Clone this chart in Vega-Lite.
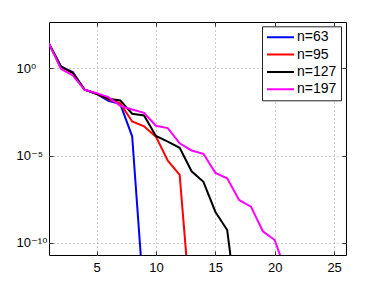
{
  "$schema": "https://vega.github.io/schema/vega-lite/v6.json",
  "width": 297,
  "height": 233,
  "autosize": {"type": "none"},
  "padding": {"left": 49, "top": 22, "right": 36, "bottom": 32},
  "background": "white",
  "config": {
    "view": {"stroke": "black", "strokeWidth": 1},
    "font": "Liberation Sans, DejaVu Sans, sans-serif"
  },
  "data": {
    "values": [
      {"series": "n=63", "x": 1, "y": 25.1},
      {"series": "n=63", "x": 2, "y": 1.2},
      {"series": "n=63", "x": 3, "y": 0.6},
      {"series": "n=63", "x": 4, "y": 0.0575},
      {"series": "n=63", "x": 5, "y": 0.0339},
      {"series": "n=63", "x": 6, "y": 0.0135},
      {"series": "n=63", "x": 7, "y": 0.0088},
      {"series": "n=63", "x": 8, "y": 1.26e-4},
      {"series": "n=63", "x": 9, "y": 5.0e-14},
      {"series": "n=95", "x": 1, "y": 25.1},
      {"series": "n=95", "x": 2, "y": 1.12},
      {"series": "n=95", "x": 3, "y": 0.537},
      {"series": "n=95", "x": 4, "y": 0.0575},
      {"series": "n=95", "x": 5, "y": 0.0339},
      {"series": "n=95", "x": 6, "y": 0.0166},
      {"series": "n=95", "x": 7, "y": 0.0095},
      {"series": "n=95", "x": 8, "y": 8.91e-4},
      {"series": "n=95", "x": 9, "y": 4.68e-4},
      {"series": "n=95", "x": 10, "y": 1.2e-4},
      {"series": "n=95", "x": 11, "y": 5.13e-6},
      {"series": "n=95", "x": 12, "y": 7.76e-7},
      {"series": "n=95", "x": 13, "y": 3.98e-15},
      {"series": "n=127", "x": 1, "y": 25.1},
      {"series": "n=127", "x": 2, "y": 1.26},
      {"series": "n=127", "x": 3, "y": 0.525},
      {"series": "n=127", "x": 4, "y": 0.0575},
      {"series": "n=127", "x": 5, "y": 0.0339},
      {"series": "n=127", "x": 6, "y": 0.0178},
      {"series": "n=127", "x": 7, "y": 0.0141},
      {"series": "n=127", "x": 8, "y": 2.45e-3},
      {"series": "n=127", "x": 9, "y": 1.95e-3},
      {"series": "n=127", "x": 10, "y": 1.32e-4},
      {"series": "n=127", "x": 11, "y": 6.31e-5},
      {"series": "n=127", "x": 12, "y": 2.75e-5},
      {"series": "n=127", "x": 13, "y": 1.26e-6},
      {"series": "n=127", "x": 14, "y": 3.16e-7},
      {"series": "n=127", "x": 15, "y": 6.17e-9},
      {"series": "n=127", "x": 16, "y": 5.5e-10},
      {"series": "n=127", "x": 17, "y": 2.51e-15},
      {"series": "n=197", "x": 1, "y": 25.1},
      {"series": "n=197", "x": 2, "y": 0.912},
      {"series": "n=197", "x": 3, "y": 0.38},
      {"series": "n=197", "x": 4, "y": 0.0575},
      {"series": "n=197", "x": 5, "y": 0.0372},
      {"series": "n=197", "x": 6, "y": 0.0219},
      {"series": "n=197", "x": 7, "y": 0.00692},
      {"series": "n=197", "x": 8, "y": 4.27e-3},
      {"series": "n=197", "x": 9, "y": 2.75e-3},
      {"series": "n=197", "x": 10, "y": 5.01e-4},
      {"series": "n=197", "x": 11, "y": 3.72e-4},
      {"series": "n=197", "x": 12, "y": 5.01e-5},
      {"series": "n=197", "x": 13, "y": 1.95e-5},
      {"series": "n=197", "x": 14, "y": 1.26e-5},
      {"series": "n=197", "x": 15, "y": 1.02e-6},
      {"series": "n=197", "x": 16, "y": 5.01e-7},
      {"series": "n=197", "x": 17, "y": 2.88e-8},
      {"series": "n=197", "x": 18, "y": 1.2e-8},
      {"series": "n=197", "x": 19, "y": 4.68e-10},
      {"series": "n=197", "x": 20, "y": 1.48e-10},
      {"series": "n=197", "x": 21, "y": 1.74e-12}
    ]
  },
  "layer": [
    {
      "mark": {"type": "line", "strokeWidth": 2, "clip": true},
      "encoding": {
        "x": {
          "field": "x", "type": "quantitative",
          "scale": {"domain": [1, 26], "nice": false, "zero": false},
          "axis": {
            "orient": "bottom", "values": [5, 10, 15, 20, 25], "title": null,
            "grid": true, "gridDash": [1, 3], "gridColor": "#999999", "gridOpacity": 1,
            "domain": false, "tickSize": -4, "tickColor": "#333333",
            "labelPadding": 10.5, "labelFontSize": 13, "labelColor": "black", "labelFlush": false
          }
        },
        "y": {
          "field": "y", "type": "quantitative",
          "scale": {"type": "log", "domain": [2.056e-11, 431], "nice": false},
          "axis": {
            "orient": "left", "values": [1e-10, 1e-5, 1], "title": null,
            "grid": true, "gridDash": [1, 3], "gridColor": "#999999", "gridOpacity": 1,
            "domain": false, "tickSize": -4, "tickColor": "#333333",
            "labelAlign": "left", "labelPadding": 37, "labelFontSize": 13, "labelColor": "black",
            "labelExpr": "datum.value > 0.5 ? '10⁰' : (datum.value < 1e-7 ? '10⁻¹⁰' : '10⁻⁵')"
          }
        },
        "color": {
          "field": "series", "type": "nominal",
          "scale": {"domain": ["n=63", "n=95", "n=127", "n=197"], "range": ["#0000ff", "#ff0000", "#000000", "#ff00ff"]},
          "legend": {
            "orient": "none", "legendX": 213, "legendY": 4.3, "title": null,
            "symbolType": "stroke", "symbolSize": 729, "symbolStrokeWidth": 2,
            "labelFontSize": 14, "labelColor": "black", "labelOffset": 2,
            "strokeColor": "#222222", "fillColor": "white", "padding": 4,
            "rowPadding": 3.3, "clipHeight": 14
          }
        }
      }
    },
    {
      "mark": {"type": "line", "opacity": 0},
      "encoding": {
        "x": {
          "field": "x", "type": "quantitative",
          "scale": {"domain": [1, 26], "nice": false, "zero": false},
          "axis": {"orient": "top", "values": [5, 10, 15, 20, 25], "title": null, "grid": false, "domain": false, "labels": false, "tickSize": -4, "tickColor": "#333333"}
        },
        "y": {
          "field": "y", "type": "quantitative",
          "scale": {"type": "log", "domain": [2.056e-11, 431], "nice": false},
          "axis": {"orient": "right", "values": [1e-10, 1e-5, 1], "title": null, "grid": false, "domain": false, "labels": false, "tickSize": -4, "tickColor": "#333333"}
        },
        "detail": {"field": "series"}
      }
    }
  ],
  "resolve": {"axis": {"x": "independent", "y": "independent"}}
}
